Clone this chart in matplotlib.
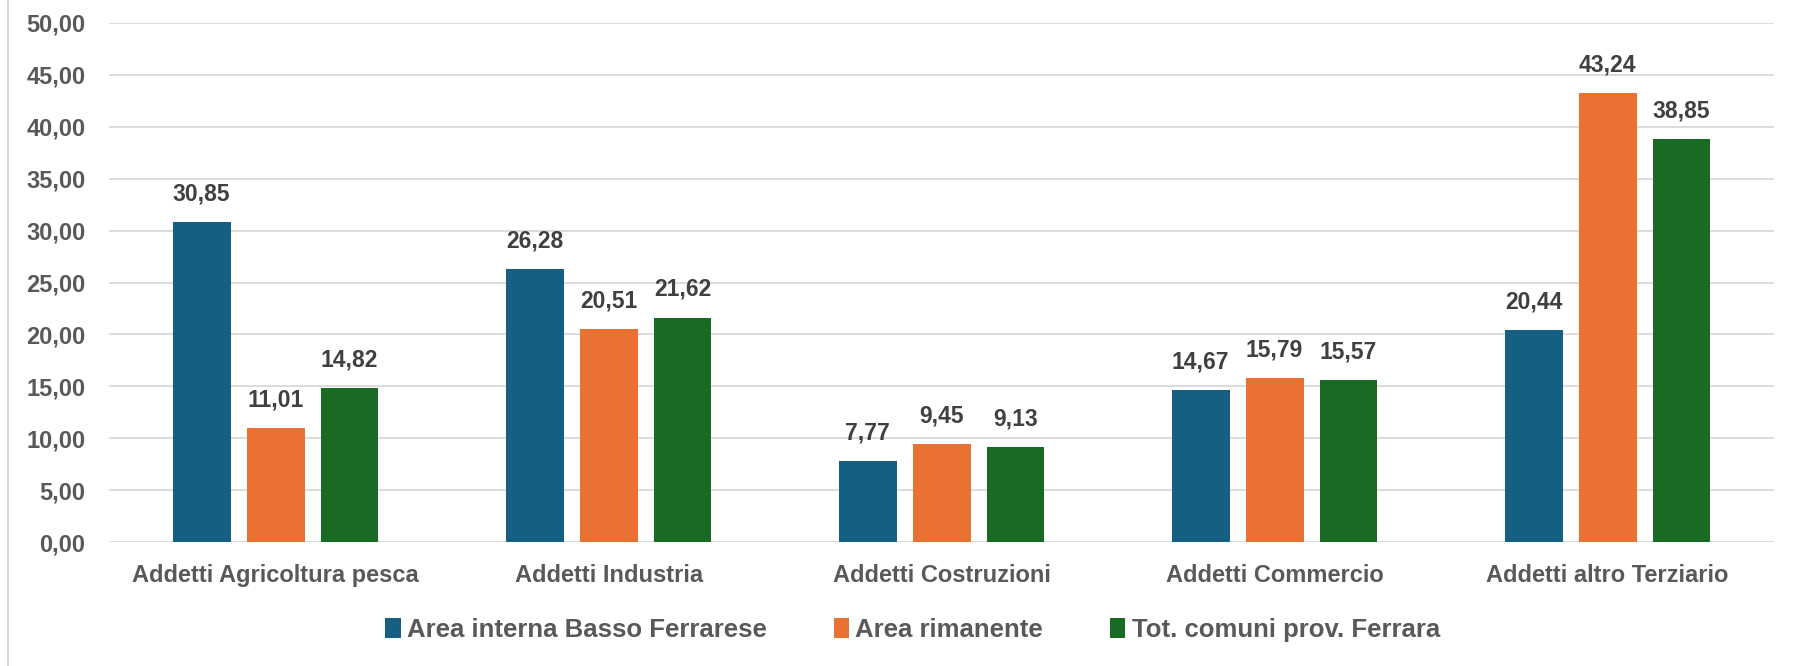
import numpy as np
import matplotlib.pyplot as plt
from matplotlib.lines import Line2D

# Data
categories = ['Addetti Agricoltura pesca', 'Addetti Industria', 'Addetti Costruzioni',
              'Addetti Commercio', 'Addetti altro Terziario']
series_names = ['Area interna Basso Ferrarese', 'Area rimanente', 'Tot. comuni prov. Ferrara']
area_interna = [30.85, 26.28, 7.77, 14.67, 20.44]
area_rimanente = [11.01, 20.51, 9.45, 15.79, 43.24]
tot_ferrara = [14.82, 21.62, 9.13, 15.57, 38.85]
yticks = [0, 5, 10, 15, 20, 25, 30, 35, 40, 45, 50]

colors = ['#156082', '#E97132', '#196B24']
plt.rcParams['font.family'] = ['Liberation Sans', 'DejaVu Sans']

fig = plt.figure(figsize=(18, 6.66), dpi=100)
ax = fig.add_axes([0.0606, 0.186, 0.9250, 0.7795])

x = np.arange(len(categories))
pitch = 0.222
width = 0.174
for i, (vals, name, c) in enumerate(zip([area_interna, area_rimanente, tot_ferrara], series_names, colors)):
    pos = x + (i - 1) * pitch
    ax.bar(pos, vals, width=width, color=c, label=name, zorder=3)
    for px, v in zip(pos, vals):
        ax.annotate(f'{v:.2f}'.replace('.', ','), (px, v), xytext=(0, 12), textcoords='offset points',
                    ha='center', va='bottom', fontsize=16.5, fontweight='bold', color='#404040')

ax.set_xlim(-0.5, len(categories) - 0.5)
ax.set_ylim(0, 50)
ax.set_yticks(yticks)
ax.set_yticklabels([f'{t:.2f}'.replace('.', ',') for t in yticks])
ax.set_xticks(x)
ax.set_xticklabels(categories)
ax.tick_params(axis='both', length=0, labelsize=17, labelcolor='#595959')
ax.tick_params(axis='y', pad=17)
ax.tick_params(axis='x', pad=16)
for lab in ax.get_xticklabels() + ax.get_yticklabels():
    lab.set_fontweight('bold')
ax.grid(axis='y', color='#D9D9D9', linewidth=1.3, zorder=0)
for s in ax.spines.values():
    s.set_visible(False)

leg = fig.legend(loc='center', bbox_to_anchor=(0.507, 0.054), ncol=3, frameon=False,
                 fontsize=18.5, handlelength=0.6, handleheight=0.8, handletextpad=0.25, columnspacing=2.6)
for t in leg.get_texts():
    t.set_color('#595959')
    t.set_fontweight('bold')

# light chart frame on the left edge
fig.add_artist(Line2D([8 / 1800, 8 / 1800], [0, 1], transform=fig.transFigure, color='#D9D9D9', linewidth=1.5))

fig.savefig('out.png', dpi=100)
